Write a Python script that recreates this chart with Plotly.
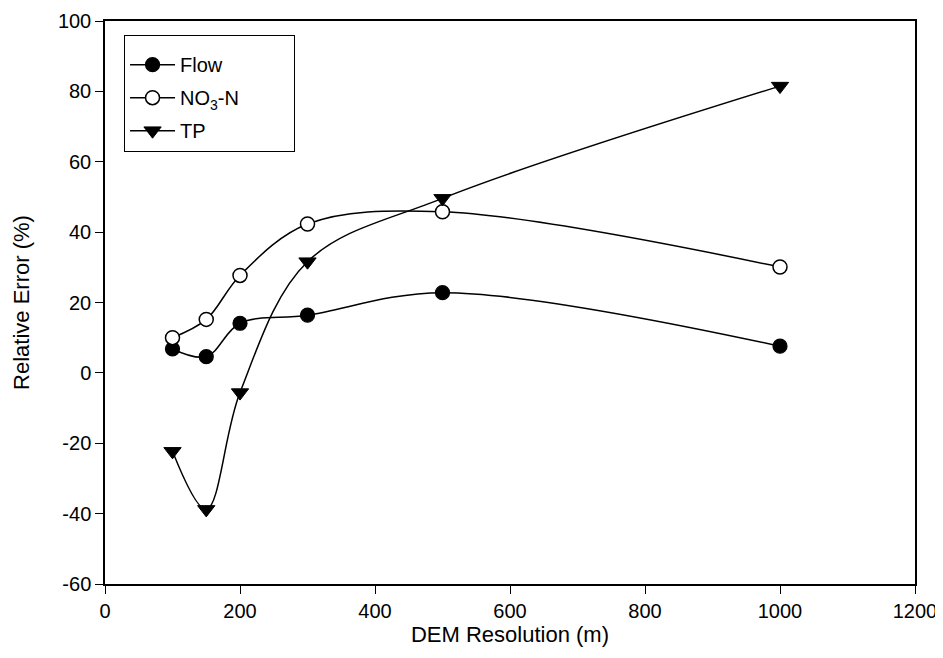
import plotly.graph_objects as go

resolution = [100, 150, 200, 300, 500, 1000]
flow = [6.8, 4.6, 14.1, 16.4, 22.8, 7.6]
no3n = [10.0, 15.2, 27.7, 42.3, 45.8, 30.1]
tp = [-22.3, -38.8, -5.6, 31.6, 49.6, 81.5]

x_ticks = [0, 200, 400, 600, 800, 1000, 1200]
y_ticks = [-60, -40, -20, 0, 20, 40, 60, 80, 100]
y_ticktext = [str(v) for v in y_ticks]

fig = go.Figure()
line_style = dict(color="black", width=1.5, shape="spline", smoothing=1.0)
fig.add_trace(go.Scatter(x=resolution, y=flow, name="Flow", mode="lines+markers",
                         line=line_style, legendgroup="a",
                         marker=dict(symbol="circle", size=14, color="black",
                                     line=dict(color="black", width=1.2))))
fig.add_trace(go.Scatter(x=resolution, y=no3n,
                         name="NO<sub>3</sub>-N" + "\u00a0" * 9,
                         mode="lines+markers",
                         line=line_style, legendgroup="b",
                         marker=dict(symbol="circle", size=14, color="white",
                                     line=dict(color="black", width=1.5))))
fig.add_trace(go.Scatter(x=resolution, y=tp, name="TP", mode="lines+markers",
                         line=line_style, legendgroup="c",
                         marker=dict(symbol="triangle-down", size=15, color="black",
                                     line=dict(color="black", width=1))))

font_family = "Liberation Sans, Arial, sans-serif"
# the page body adds an 8px offset, so the figure is 8px smaller with shifted margins
fig.update_layout(
    width=935, height=650,
    margin=dict(l=97, r=28, t=13, b=74),
    paper_bgcolor="white", plot_bgcolor="white",
    font=dict(family=font_family, color="black", size=20),
    showlegend=True,
    legend=dict(x=0.0235, y=0.975, xanchor="left", yanchor="top",
                bordercolor="black", borderwidth=1, bgcolor="white",
                font=dict(size=20), tracegroupgap=4,
                title=dict(text="\u00a0", font=dict(size=7)),
                itemwidth=45),
    xaxis=dict(range=[0, 1200], tickvals=x_ticks,
               showgrid=False, zeroline=False, showline=True, linecolor="black",
               linewidth=1.5, mirror=True, ticks="outside", ticklen=8,
               tickcolor="black", tickfont=dict(size=20), automargin=False,
               title=dict(text="DEM Resolution (m)", font=dict(size=22), standoff=6)),
    yaxis=dict(range=[-60, 100], tickvals=y_ticks, ticktext=y_ticktext,
               showgrid=False, zeroline=False, showline=True, linecolor="black",
               linewidth=1.5, mirror=True, ticks="outside", ticklen=8,
               tickcolor="black", tickfont=dict(size=20), automargin=False,
               title=dict(text="Relative Error (%)", font=dict(size=22), standoff=22)),
)

fig.write_html("out.html")
